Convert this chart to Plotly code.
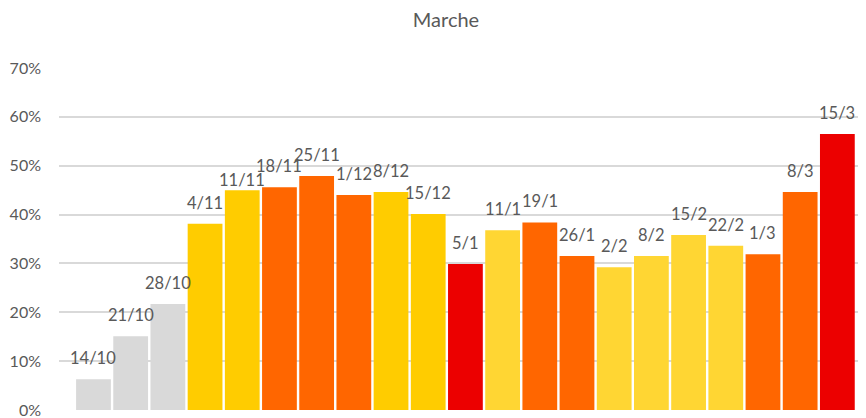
import plotly.graph_objects as go

categories = ["14/10", "21/10", "28/10", "4/11", "11/11", "18/11", "25/11", "1/12",
              "8/12", "15/12", "5/1", "11/1", "19/1", "26/1", "2/2", "8/2", "15/2",
              "22/2", "1/3", "8/3", "15/3"]
values = [0.063, 0.151, 0.217, 0.381, 0.450, 0.456, 0.479, 0.440,
          0.446, 0.401, 0.299, 0.368, 0.384, 0.315, 0.292, 0.315, 0.358,
          0.336, 0.319, 0.446, 0.565]
levels = ["gray", "gray", "gray", "yellow", "yellow", "orange", "orange", "orange",
          "yellow", "yellow", "red", "light", "orange", "orange", "light", "light", "light",
          "light", "orange", "orange", "red"]
palette = {"gray": "#D9D9D9", "yellow": "#FFCC00", "light": "#FFD633",
           "orange": "#FF6600", "red": "#EC0000"}
y_ticks = [0, 0.1, 0.2, 0.3, 0.4, 0.5, 0.6, 0.7]

# label placement (style): pixels above bar top, with one label nudged down
label_shift = 21
label_shift_override = {"11/11": 10}

xs = list(range(len(categories)))
fig = go.Figure(go.Bar(
    x=xs,
    y=values,
    marker=dict(color=[palette[l] for l in levels], line=dict(width=0)),
    hoverinfo="skip",
))

for xi, v, c in zip(xs, values, categories):
    fig.add_annotation(
        x=xi, y=v, text=c, showarrow=False,
        xanchor="center", yanchor="middle",
        yshift=label_shift_override.get(c, label_shift),
        font=dict(family="Lato", size=16.5, color="#595959"),
    )

# page body has an 8px margin, so the figure is drawn 8px smaller and offset
fig.update_layout(
    width=858, height=410,
    margin=dict(l=51, r=0, t=60, b=8),
    paper_bgcolor="white", plot_bgcolor="white",
    bargap=0.065,
    showlegend=False,
    title=dict(text="Marche", x=0.5105, xref="container", xanchor="center",
               y=0.971, yref="container", yanchor="middle",
               font=dict(family="Lato", size=20, color="#595959")),
    xaxis=dict(range=[-0.927, 20.77], showticklabels=False, showgrid=False,
               zeroline=False, showline=False, ticks=""),
    yaxis=dict(range=[0, 0.70], tickvals=y_ticks, tickformat=".0%",
               showgrid=True, gridcolor="#D9D9D9", gridwidth=1.5,
               zeroline=False, showline=False, ticks="", ticklabelstandoff=17,
               ticklabeloverflow="allow",
               tickfont=dict(family="Lato", size=16, color="#595959")),
)

fig.write_html("out.html")
